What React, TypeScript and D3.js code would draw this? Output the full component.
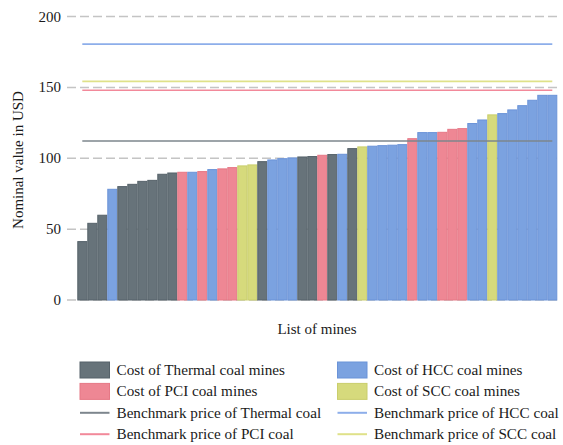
import React, { useEffect, useRef } from 'react';
import * as d3 from 'd3';

// mine type per bar: T = thermal, H = HCC, P = PCI, S = SCC
const mineTypes = [
    'T', 'T', 'T', 'H', 'T', 'T', 'T', 'T', 'T', 'T',
    'P', 'H', 'P', 'H', 'P', 'P', 'S', 'S', 'T', 'H',
    'H', 'H', 'T', 'T', 'P', 'T', 'H', 'T', 'S', 'H',
    'H', 'H', 'H', 'P', 'H', 'H', 'P', 'P', 'P', 'H',
    'H', 'S', 'H', 'H', 'H', 'H', 'H', 'H'
];
const mineCosts = [
    41.2, 54.1, 59.8, 78.1, 80.0, 81.6, 83.7, 84.4, 88.7, 89.6,
    90.1, 90.1, 90.6, 92.0, 92.5, 93.4, 94.6, 95.3, 97.6, 98.8,
    99.7, 100.2, 100.9, 101.2, 102.1, 102.6, 102.8, 106.8, 108.0, 108.5,
    108.9, 109.2, 109.6, 113.8, 118.1, 118.1, 118.3, 120.4, 120.9, 124.5,
    127.0, 130.6, 131.5, 134.1, 137.1, 140.9, 144.4, 144.4
];
const coalTypes = ['T', 'H', 'P', 'S'];
const coalNames = ['Thermal', 'HCC', 'PCI', 'SCC'];
const benchmarks = [112.2, 180.5, 148.0, 154.2];
const yTicks = [0, 50, 100, 150, 200];

const fills = { T: '#67737a', H: '#7ba2e0', P: '#ee8794', S: '#d6da7c' };
const strokes = { T: '#56626a', H: '#6b93d8', P: '#e67886', S: '#c9ce6c' };
const lineColors = { T: '#7d868d', H: '#8daeea', P: '#f2899a', S: '#dfe189' };

const font = '"Liberation Serif", "Times New Roman", serif';

export default function App() {
    const ref = useRef<SVGSVGElement>(null);

    useEffect(() => {
        const svg = d3.select(ref.current);
        svg.selectAll('*').remove();

        const x = d3.scaleBand<number>()
            .domain(d3.range(mineCosts.length))
            .range([77.3, 557.3])
            .padding(0);
        const y = d3.scaleLinear().domain([0, 200]).range([300, 16.5]);

        // dashed grid
        svg.append('g')
            .selectAll('line')
            .data(yTicks)
            .enter().append('line')
            .attr('x1', 67).attr('x2', 560)
            .attr('y1', d => y(d)).attr('y2', d => y(d))
            .attr('stroke', '#c4c4c4')
            .attr('stroke-width', 1.5)
            .attr('stroke-dasharray', '9,4');

        svg.append('g')
            .selectAll('text')
            .data(yTicks)
            .enter().append('text')
            .attr('x', 61).attr('y', d => y(d) + 5)
            .attr('text-anchor', 'end')
            .style('font-family', font).style('font-size', '15px')
            .attr('fill', '#1a1a1a')
            .text(d => d);

        // bars
        svg.append('g')
            .selectAll('rect')
            .data(mineCosts)
            .enter().append('rect')
            .attr('x', (d, i) => x(i)! + 0.5)
            .attr('width', x.bandwidth() - 1)
            .attr('y', d => y(d))
            .attr('height', d => y(0) - y(d))
            .attr('fill', (d, i) => fills[mineTypes[i]])
            .attr('stroke', (d, i) => strokes[mineTypes[i]])
            .attr('stroke-width', 1);

        // benchmark lines, first to last category centre
        const x0 = x(0)! + x.bandwidth() / 2;
        const x1 = x(mineCosts.length - 1)! + x.bandwidth() / 2;
        svg.append('g')
            .selectAll('line')
            .data(coalTypes)
            .enter().append('line')
            .attr('x1', x0).attr('x2', x1)
            .attr('y1', (d, i) => y(benchmarks[i])).attr('y2', (d, i) => y(benchmarks[i]))
            .attr('stroke', d => lineColors[d])
            .attr('stroke-width', 1.6);

        svg.append('text')
            .attr('x', 317).attr('y', 334)
            .attr('text-anchor', 'middle')
            .style('font-family', font).style('font-size', '15px')
            .attr('fill', '#1a1a1a')
            .text('List of mines');

        svg.append('text')
            .attr('transform', 'translate(23,160) rotate(-90)')
            .attr('text-anchor', 'middle')
            .style('font-family', font).style('font-size', '15px')
            .attr('fill', '#1a1a1a')
            .text('Nominal value in USD');

        // legend
        const legendItems = [
            { kind: 'box', type: 'T', label: 'Cost of Thermal coal mines' },
            { kind: 'box', type: 'H', label: 'Cost of HCC coal mines' },
            { kind: 'box', type: 'P', label: 'Cost of PCI coal mines' },
            { kind: 'box', type: 'S', label: 'Cost of SCC coal mines' },
            { kind: 'line', type: 'T', label: 'Benchmark price of ' + coalNames[0] + ' coal' },
            { kind: 'line', type: 'H', label: 'Benchmark price of ' + coalNames[1] + ' coal' },
            { kind: 'line', type: 'P', label: 'Benchmark price of ' + coalNames[2] + ' coal' },
            { kind: 'line', type: 'S', label: 'Benchmark price of ' + coalNames[3] + ' coal' }
        ];
        const legend = svg.append('g')
            .selectAll('g')
            .data(legendItems)
            .enter().append('g')
            .attr('transform', (d, i) => `translate(${i % 2 === 0 ? 80 : 337.5},${370 + Math.floor(i / 2) * 21.4})`);

        legend.filter(d => d.kind === 'box').append('rect')
            .attr('x', 0).attr('y', -8)
            .attr('width', 29.5).attr('height', 16)
            .attr('fill', d => fills[d.type])
            .attr('stroke', d => strokes[d.type]);

        legend.filter(d => d.kind === 'line').append('line')
            .attr('x1', 0).attr('x2', 29.5)
            .attr('y1', 0).attr('y2', 0)
            .attr('stroke', d => lineColors[d.type])
            .attr('stroke-width', 2);

        legend.append('text')
            .attr('x', 36.5).attr('y', 5)
            .style('font-family', font).style('font-size', '15.2px')
            .attr('fill', '#1a1a1a')
            .text(d => d.label);
    }, []);

    return <svg ref={ref} width={563} height={445}
        style={{ position: 'absolute', left: 0, top: 0, background: '#fff' }} />;
}
